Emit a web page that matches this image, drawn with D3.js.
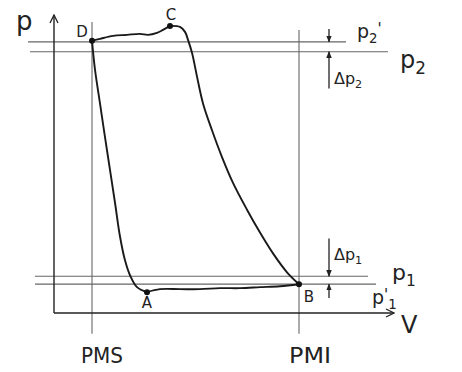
<!DOCTYPE html>
<html>
<head>
<meta charset="utf-8">
<script src="https://cdn.jsdelivr.net/npm/d3@7"></script>
<style>
  body { margin: 0; background: #fff; }
  .lbl { font-family: "DejaVu Sans", sans-serif; fill: #222; }
</style>
</head>
<body>
<div id="chart"></div>
<script>
// cycle in (V, p) units, D -> C -> B -> A -> D
var topStroke = [[3.8,27.4],[4.6,27.6],[5.9,27.9],[7.3,28.0],[8.6,28.1],[9.4,28.0],[10.3,28.2],[10.9,28.5],[11.6,28.9]];
var expansion = [[11.6,28.9],[12.6,28.8],[13.1,28.3],[13.4,27.5],[13.8,26.2],[14.3,23.8],[14.9,21.1],[15.8,18.4],[16.8,15.7],[17.9,13.1],[19.3,10.4],[20.6,8.1],[21.9,6.0],[23.3,4.1],[24.5,2.9]];
var intake = [[24.5,2.9],[22.6,2.7],[20.6,2.6],[18.6,2.5],[16.6,2.5],[14.6,2.4],[12.6,2.4],[10.6,2.4],[9.3,2.1]];
var compression = [[9.3,2.1],[8.3,2.6],[7.6,3.8],[7.1,5.3],[6.6,7.7],[6.1,11.1],[5.6,14.4],[5.1,17.7],[4.6,21.1],[4.1,24.5],[3.8,27.4]];

var points = [
  {name: "A", v: 9.3, p: 2.1, dx: 0, dy: 16},
  {name: "B", v: 24.5, p: 2.9, dx: 10, dy: 18},
  {name: "C", v: 11.6, p: 28.9, dx: 1, dy: -6},
  {name: "D", v: 3.8, p: 27.4, dx: -10, dy: -4}
];

// reference pressures with horizontal extent
var pressures = [
  {name: "p2'", p: 27.3, v0: -2.6, v1: 29.2},
  {name: "p2", p: 26.3, v0: -2.4, v1: 33.4},
  {name: "p1", p: 3.7, v0: -1.9, v1: 31.4},
  {name: "p1'", p: 2.9, v0: -1.9, v1: 32.2}
];
var deadCentres = [
  {name: "PMS", v: 3.8, pTop: 29.3},
  {name: "PMI", v: 24.5, pTop: 28.5}
];

var width = 462, height = 372;
var x = d3.scaleLinear().domain([0, 34]).range([54, 394]);
var y = d3.scaleLinear().domain([0, 30]).range([313, 15]);

var svg = d3.select("#chart").append("svg")
  .attr("width", width)
  .attr("height", height);

// arrow heads
var defs = svg.append("defs");
defs.append("marker")
  .attr("id", "open")
  .attr("viewBox", "0 0 10 10")
  .attr("refX", 9).attr("refY", 5)
  .attr("markerWidth", 10).attr("markerHeight", 10)
  .attr("markerUnits", "userSpaceOnUse")
  .attr("orient", "auto")
  .append("path")
  .attr("d", "M1,1L9,5L1,9")
  .attr("fill", "none").attr("stroke", "#222").attr("stroke-width", 1.3);
defs.append("marker")
  .attr("id", "solid")
  .attr("viewBox", "0 0 10 10")
  .attr("refX", 9).attr("refY", 5)
  .attr("markerWidth", 7).attr("markerHeight", 7)
  .attr("markerUnits", "userSpaceOnUse")
  .attr("orient", "auto")
  .append("path")
  .attr("d", "M0,1L10,5L0,9Z")
  .attr("fill", "#222");

// reference lines
svg.selectAll(".pref").data(pressures).enter().append("line")
  .attr("class", "pref")
  .attr("x1", d => x(d.v0)).attr("x2", d => x(d.v1))
  .attr("y1", d => y(d.p)).attr("y2", d => y(d.p))
  .attr("stroke", "#666").attr("stroke-width", 1.2);

svg.selectAll(".dead").data(deadCentres).enter().append("line")
  .attr("class", "dead")
  .attr("x1", d => x(d.v)).attr("x2", d => x(d.v))
  .attr("y1", d => y(d.pTop)).attr("y2", y(-2.1))
  .attr("stroke", "#666").attr("stroke-width", 1.1);

// axes
svg.append("line")
  .attr("x1", x(0)).attr("x2", x(0))
  .attr("y1", y(0)).attr("y2", y(30))
  .attr("stroke", "#222").attr("stroke-width", 1.4)
  .attr("marker-end", "url(#open)");
svg.append("line")
  .attr("x1", x(0)).attr("x2", x(34))
  .attr("y1", y(0)).attr("y2", y(0))
  .attr("stroke", "#222").attr("stroke-width", 1.4)
  .attr("marker-end", "url(#open)");

// delta p arrows
var dv = 27.5;
[[28.6, 27.3], [22.6, 26.3], [7.5, 3.7], [1.5, 2.9]].forEach(function(s) {
  svg.append("line")
    .attr("x1", x(dv)).attr("x2", x(dv))
    .attr("y1", y(s[0])).attr("y2", y(s[1]))
    .attr("stroke", "#222").attr("stroke-width", 1.3)
    .attr("marker-end", "url(#solid)");
});

// cycle
var line = d3.line()
  .x(d => x(d[0]))
  .y(d => y(d[1]))
  .curve(d3.curveCatmullRom.alpha(0.5));
[topStroke, expansion, intake, compression].forEach(function(seg) {
  svg.append("path")
    .datum(seg)
    .attr("d", line)
    .attr("fill", "none")
    .attr("stroke", "#1a1a1a")
    .attr("stroke-width", 1.9)
    .attr("stroke-linejoin", "round");
});

svg.selectAll(".pt").data(points).enter().append("circle")
  .attr("cx", d => x(d.v)).attr("cy", d => y(d.p)).attr("r", 3)
  .attr("fill", "#111");
svg.selectAll(".ptl").data(points).enter().append("text")
  .attr("class", "lbl")
  .attr("x", d => x(d.v) + d.dx).attr("y", d => y(d.p) + d.dy)
  .attr("text-anchor", "middle")
  .attr("font-size", 15)
  .text(d => d.name);

// text labels
function label(tx, ty, main, sub, prime, size) {
  var t = svg.append("text").attr("class", "lbl")
    .attr("x", tx).attr("y", ty).attr("font-size", size);
  t.append("tspan").text(main);
  if (prime === "before") {
    t.append("tspan").attr("font-size", size * 0.8).attr("dy", -size * 0.2).text("'");
    t.append("tspan").attr("font-size", size * 0.7).attr("dy", size * 0.45).text(sub);
    return t;
  }
  if (sub) t.append("tspan").attr("font-size", size * 0.7).attr("dy", size * 0.25).text(sub);
  if (prime) t.append("tspan").attr("font-size", size * 0.8).attr("dy", -size * 0.45).text("'");
  return t;
}
label(16, 30, "p", null, false, 26);
label(357, 38, "p", "2", true, 19);
label(400, 68, "p", "2", false, 24);
label(334, 84, "Δp", "2", false, 16);
label(334, 260, "Δp", "1", false, 16);
label(392, 280, "p", "1", false, 22);
label(372, 304, "p", "1", "before", 19);
label(401, 333, "V", null, false, 24);

svg.selectAll(".dc").data(deadCentres).enter().append("text")
  .attr("class", "lbl")
  .attr("x", d => x(d.v) + (d.name === "PMS" ? 10 : 11)).attr("y", 363)
  .attr("text-anchor", "middle")
  .attr("font-size", 22)
  .attr("textLength", 42)
  .attr("lengthAdjust", "spacingAndGlyphs")
  .text(d => d.name);
</script>
</body>
</html>
